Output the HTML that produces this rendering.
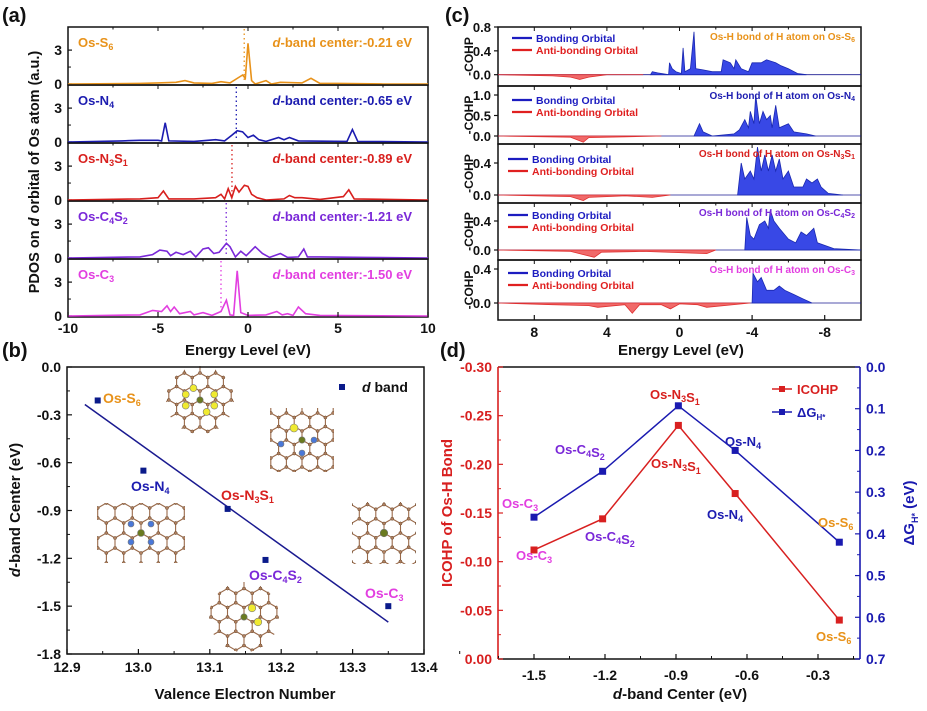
<!DOCTYPE html>
<html><head><meta charset="utf-8"><style>
html,body{margin:0;padding:0;background:#fff;}
svg{display:block;font-family:"Liberation Sans",Arial,sans-serif;font-weight:bold;}
</style></head><body>
<svg id="fig" width="927" height="711" viewBox="0 0 927 711" xmlns="http://www.w3.org/2000/svg">
<defs>
<clipPath id="clipA"><rect x="68" y="27" width="360" height="290"/></clipPath>
<clipPath id="clipC"><rect x="498" y="27" width="363" height="293"/></clipPath>
</defs>
<g id="pa"></g>
<g id="pb"></g>
<g id="pc"></g>
<g id="pd"></g>
</svg>
<script>
const NS="http://www.w3.org/2000/svg";
function mk(parent,tag,attrs,text){const e=document.createElementNS(NS,tag);for(const k in attrs)e.setAttribute(k,attrs[k]);if(text!==undefined)e.innerHTML=text;parent.appendChild(e);return e;}

// ---------- Panel (a) data ----------
const pdosNames=["Os-S<tspan font-size='9' dy='3'>6</tspan>","Os-N<tspan font-size='9' dy='3'>4</tspan>","Os-N<tspan font-size='9' dy='3'>3</tspan><tspan dy='-3'>S</tspan><tspan font-size='9' dy='3'>1</tspan>","Os-C<tspan font-size='9' dy='3'>4</tspan><tspan dy='-3'>S</tspan><tspan font-size='9' dy='3'>2</tspan>","Os-C<tspan font-size='9' dy='3'>3</tspan>"];
const pdosColors=["#e8921a","#1c1cb0","#d8201e","#7a28d8","#e23ee0"];
const dCenters=[-0.21,-0.65,-0.89,-1.21,-1.50];
const pdosS6=[[-10,0],[-6,0.05],[-5,0.1],[-4,0.15],[-3.5,0.3],[-3,0.1],[-2,0.05],[-1.5,0.2],[-1,0.1],[-0.3,0.8],[-0.15,0.5],[0,3.6],[0.2,0.3],[0.4,0],[1,0.3],[1.3,0],[1.8,0.15],[3,0.1],[3.5,0.5],[4,0.05],[5,0.05],[7.5,0],[10,0]];
const pdosN4=[[-10,0],[-7,0.1],[-6,0.15],[-5,0.15],[-4.8,0.1],[-4.6,1.7],[-4.4,0.1],[-3,0.05],[-1.8,0.2],[-1.3,0.1],[-0.9,0.6],[-0.6,1.0],[-0.3,0.9],[0,0.4],[0.3,0.6],[0.6,0.2],[1,0.05],[1.7,0.4],[2,0.2],[2.3,0.4],[2.8,0.1],[5.5,0.05],[5.8,1.1],[6.1,0.05],[10,0]];
const pdosN3S1=[[-10,0],[-6,0.1],[-5,0.2],[-4.7,0.8],[-4.4,0.1],[-3,0.1],[-1.8,0.2],[-1.5,0.5],[-1.3,0.1],[-1.1,1.0],[-0.9,0.2],[-0.7,1.2],[-0.5,0.7],[-0.2,1.3],[0,1.2],[0.2,0.5],[0.5,0.2],[1,0],[2,0.1],[2.3,0.4],[2.6,0.2],[3,0.2],[4,0.05],[5.3,0.3],[5.6,0.9],[5.9,0.1],[10,0]];
const pdosC4S2=[[-10,0],[-6,0.1],[-5.3,0.3],[-4.9,0.7],[-4.5,0.6],[-4.3,0.2],[-4,0.5],[-3.6,0.3],[-3.2,0.6],[-2.9,0.1],[-2.5,0.8],[-2.2,0.9],[-1.9,0.4],[-1.6,0.5],[-1.2,1.3],[-1.0,1.0],[-0.7,0.1],[-0.4,0.6],[-0.1,0.2],[0.4,1.0],[0.8,0.4],[1.2,0.05],[1.8,0.4],[2.2,0.05],[2.8,0.1],[3.1,0.8],[3.3,0.1],[4,0.1],[6.5,0.05],[10,0]];
const pdosC3=[[-10,0],[-6,0.1],[-5.3,0.5],[-4.8,0.4],[-4.5,0.9],[-4.3,0.4],[-4.1,0.8],[-3.8,0.2],[-3.2,0.4],[-3,0.1],[-2.5,0.3],[-2,0.05],[-1.5,0.4],[-1.2,1.4],[-1.0,0.1],[-0.8,0.05],[-0.6,4.0],[-0.4,0.3],[0,0.05],[1,0.1],[1.6,0.4],[1.9,0.1],[2.2,0.2],[2.5,0.05],[2.8,0.8],[3.2,0.2],[4,0.05],[10,0]];
const pdosSeries=[pdosS6,pdosN4,pdosN3S1,pdosC4S2,pdosC3];
const aTicks=[-10,-5,0,5,10];

// ---------- Panel (b) data ----------
const valence=[12.943,13.007,13.125,13.178,13.35];
const dband=[-0.21,-0.65,-0.89,-1.21,-1.50];
const fitX=[12.925,13.35];
const fitY=[-0.235,-1.60];
const bXTicks=[12.9,13.0,13.1,13.2,13.3,13.4];
const bYTicks=[0.0,-0.3,-0.6,-0.9,-1.2,-1.5,-1.8];

// ---------- Panel (c) data ----------
const cohpTitles=["Os-S<tspan font-size='7' dy='2'>6</tspan>","Os-N<tspan font-size='7' dy='2'>4</tspan>","Os-N<tspan font-size='7' dy='2'>3</tspan><tspan dy='-2'>S</tspan><tspan font-size='7' dy='2'>1</tspan>","Os-C<tspan font-size='7' dy='2'>4</tspan><tspan dy='-2'>S</tspan><tspan font-size='7' dy='2'>2</tspan>","Os-C<tspan font-size='7' dy='2'>3</tspan>"];
const cohpYTicks=[[0.0,0.4,0.8],[0.0,0.5,1.0],[0.0,0.4],[0.0,0.4],[0.0,0.4]];
const bondS6=[[1.6,0],[1.5,0.05],[1.2,0.03],[0.6,0],[0.55,0.2],[0.4,0.1],[0.2,0.05],[-0.1,0.02],[-0.2,0.45],[-0.3,0.05],[-0.6,0.1],[-0.8,0.72],[-0.9,0.1],[-1.3,0.08],[-1.8,0.05],[-2.3,0.05],[-2.4,0.25],[-2.8,0.2],[-3.0,0.1],[-3.1,0.25],[-3.4,0.1],[-3.8,0.05],[-4.0,0.2],[-4.5,0.2],[-4.8,0.25],[-5.3,0.2],[-5.6,0.15],[-6.0,0.1],[-6.5,0.02],[-7,0]];
const antiS6=[[10,0],[7,-0.02],[6,-0.04],[5.5,-0.08],[5,-0.04],[4,0],[2,0]];
const bondN4=[[-0.8,0],[-1.1,0.3],[-1.3,0.1],[-1.8,0],[-3.0,0.05],[-3.3,0.15],[-3.6,0.4],[-3.8,0.2],[-3.9,0.6],[-4.1,0.3],[-4.2,1.0],[-4.4,0.3],[-4.6,0.6],[-4.8,0.4],[-5,0.5],[-5.1,0.2],[-5.3,0.75],[-5.5,0.2],[-6,0.3],[-6.3,0.1],[-7,0.05],[-7.5,0]];
const antiN4=[[10,0],[6,-0.03],[5.3,-0.15],[5,-0.04],[3,-0.02],[1,0]];
const bondN3S1=[[-3.2,0],[-3.4,0.4],[-3.6,0.2],[-3.9,0.3],[-4.1,0.2],[-4.3,0.6],[-4.5,0.3],[-4.7,0.5],[-4.9,0.3],[-5.1,0.5],[-5.3,0.3],[-5.5,0.45],[-5.7,0.2],[-6,0.3],[-6.3,0.1],[-6.8,0.1],[-7,0.2],[-7.3,0.15],[-7.6,0.2],[-7.8,0.1],[-8.2,0.02],[-9,0]];
const antiN3S1=[[10,0],[6,-0.02],[5.3,-0.07],[5,-0.03],[3,-0.01],[1.5,-0.03],[0.5,0]];
const bondC4S2=[[-3.6,0],[-3.7,0.45],[-3.9,0.2],[-4.1,0.15],[-4.4,0.35],[-4.7,0.4],[-4.9,0.3],[-5.0,0.55],[-5.2,0.4],[-5.5,0.3],[-6,0.15],[-6.4,0.1],[-6.7,0.25],[-7,0.2],[-7.4,0.3],[-7.6,0.1],[-8.5,0.02],[-10,0]];
const antiC4S2=[[10,0],[6,-0.02],[4.7,-0.1],[4.3,-0.03],[2,-0.02],[-1.5,-0.05],[-2,0]];
const bondC3=[[-4,0],[-4.05,0.35],[-4.3,0.25],[-4.5,0.3],[-4.8,0.15],[-5.2,0.15],[-5.5,0.2],[-5.8,0.15],[-6.3,0.1],[-6.8,0.05],[-7.3,0]];
const antiC3=[[10,0],[7,-0.02],[5,-0.03],[4.5,-0.05],[3,-0.02],[2.6,-0.12],[2.2,-0.02],[1,-0.02],[0.5,-0.07],[0,-0.01],[-1,-0.02],[-1.5,-0.05],[-3.9,0]];
const bondSeries=[bondS6,bondN4,bondN3S1,bondC4S2,bondC3];
const antiSeries=[antiS6,antiN4,antiN3S1,antiC4S2,antiC3];
const cXTicks=[8,4,0,-4,-8];

// ---------- Panel (d) data ----------
const dX=[-1.5,-1.21,-0.89,-0.65,-0.21];
const icohp=[-0.112,-0.144,-0.240,-0.170,-0.040];
const deltaG=[0.36,0.25,0.093,0.20,0.42];
const dXTicks=[-1.5,-1.2,-0.9,-0.6,-0.3];
const dLeftTicks=[-0.30,-0.25,-0.20,-0.15,-0.10,-0.05,0.00];
const dRightTicks=[0.0,0.1,0.2,0.3,0.4,0.5,0.6,0.7];

// ================= Panel (a) =================
const pa=document.getElementById('pa');
const ax=e=>68+(e+10)/20*360;
mk(pa,'text',{x:2,y:22,'font-size':20,fill:'#111'},'(a)');
for(let i=0;i<5;i++){
  const top=27+58*i, bot=top+58, y0=bot-1;
  const ay=v=>y0-v*11.3;
  const g=mk(pa,'g',{});
  
  
  const fr=mk(g,'rect',{x:68,y:top,width:360,height:58,fill:'none',stroke:'#111','stroke-width':1.5});
  
  for(const v of [0,3]){
    mk(g,'line',{x1:68,x2:72,y1:ay(v),y2:ay(v),stroke:'#111','stroke-width':1.2});
    const t=mk(g,'text',{x:62,y:ay(v)+5,'text-anchor':'end','font-size':14,fill:'#111'},String(v));
    
  }
  mk(g,'line',{x1:68,x2:71,y1:ay(1.5),y2:ay(1.5),stroke:'#111'});
  for(let e=-10;e<=10;e+=2.5){mk(g,'line',{x1:ax(e),x2:ax(e),y1:top,y2:top+(e%5===0?4:2.5),stroke:'#111'});}
  const pts=pdosSeries[i].map(p=>ax(p[0]).toFixed(1)+','+ay(p[1]).toFixed(1)).join(' ');
  const pl=mk(g,'polyline',{points:pts,fill:'none',stroke:pdosColors[i],'stroke-width':1.6,'clip-path':'url(#clipA)'});
  
  const dl=mk(g,'line',{x1:ax(dCenters[i]),x2:ax(dCenters[i]),y1:top+2,y2:ay(0.3),stroke:pdosColors[i],'stroke-width':1.3,'stroke-dasharray':'1.5,3'});
  
  const nm=mk(g,'text',{x:78,y:top+20,'font-size':13,fill:pdosColors[i]},pdosNames[i]);
  
  const dc=mk(g,'text',{x:412,y:top+20,'text-anchor':'end','font-size':13,fill:pdosColors[i]},"<tspan font-style='italic'>d</tspan>-band center:"+dCenters[i].toFixed(2)+" eV");
  
}
aTicks.forEach(t=>{
  mk(pa,'line',{x1:ax(t),x2:ax(t),y1:317,y2:312,stroke:'#111','stroke-width':1.2});
  const tl=mk(pa,'text',{x:ax(t),y:333,'text-anchor':'middle','font-size':14,fill:'#111'},String(t));
  
});
mk(pa,'text',{x:248,y:355,'text-anchor':'middle','font-size':15,fill:'#111'},'Energy Level (eV)');
mk(pa,'text',{x:0,y:0,transform:'translate(39,172) rotate(-90)','text-anchor':'middle','font-size':14.5,fill:'#111'},"PDOS on <tspan font-style='italic'>d</tspan> orbital of Os atom (a.u.)");

// ================= Panel (b) =================
const pb=document.getElementById('pb');
const bx=v=>67+(v-12.9)/0.5*357;
const by=v=>367+(-v)/1.8*287;
mk(pb,'text',{x:2,y:357,'font-size':20,fill:'#111'},'(b)');
function lattice(cx,cy,w,h,a,shape){
  const g=mk(pb,'g',{});
  
  
  const id='cl'+Math.round(cx)+'_'+Math.round(cy);
  const cp=mk(document.querySelector('defs'),'clipPath',{id:id});
  if(shape==='c') mk(cp,'circle',{cx:cx,cy:cy,r:w/2}); else mk(cp,'rect',{x:cx-w/2,y:cy-h/2,width:w,height:h});
  const gg=mk(g,'g',{'clip-path':'url(#'+id+')'});
  const s3=Math.sqrt(3);let d='';const dots=[];
  for(let j=-6;j<=6;j++)for(let i=-7;i<=7;i++){
    const hx=cx+i*s3*a+(Math.abs(j)%2?s3*a/2:0), hy=cy+a+j*1.5*a;
    if(Math.abs(hx-cx)>w/2+a*2||Math.abs(hy-cy)>h/2+a*2)continue;
    for(let k=0;k<6;k++){const an=Math.PI/3*k+Math.PI/6;const px=hx+a*Math.cos(an),py=hy+a*Math.sin(an);d+=(k?'L':'M')+px.toFixed(1)+','+py.toFixed(1);dots.push([px,py]);}
    d+='Z';
  }
  mk(gg,'path',{d:d,fill:'none',stroke:'#9a6a4a','stroke-width':1.1});
  dots.forEach(p=>mk(gg,'circle',{cx:p[0],cy:p[1],r:1.5,fill:'#b08060',stroke:'#6a4a30','stroke-width':0.4}));
  return g;
}
function atom(g,x,y,c,r){mk(g,'circle',{cx:x,cy:y,r:r,fill:c,stroke:'#777','stroke-width':0.6});}
let g1=lattice(200,400,68,68,9,'c');[[-13,-8],[13,-8],[-13,8],[13,8],[-6,-17],[6,17]].forEach(p=>atom(g1,200+p[0]*1.1,400+p[1]*0.7,'#f0ea30',3.5));atom(g1,200,400,'#6a7a20',3.2);
let g2=lattice(302,440,64,64,9,'r');[[-21,4],[12,0],[0,13]].forEach(p=>atom(g2,302+p[0],440+p[1],'#4a78d8',3));atom(g2,294,428,'#f0ea30',4);atom(g2,302,440,'#6a7a20',3.2);
let g3=lattice(141,533,88,60,10,'r');[[-10,-9],[10,-9],[-10,9],[10,9]].forEach(p=>atom(g3,141+p[0],533+p[1],'#4a78d8',3));atom(g3,141,533,'#6a7a20',3.5);
let g4=lattice(244,617,70,66,9.5,'c');atom(g4,252,608,'#f0ea30',3.8);atom(g4,258,622,'#f0ea30',3.8);atom(g4,244,617,'#6a7a20',3.2);
let g5=lattice(384,533,64,62,9.5,'r');atom(g5,384,533,'#6a7a20',3.8);
mk(pb,'rect',{x:67,y:367,width:357,height:287,fill:'none',stroke:'#111','stroke-width':1.5});
bXTicks.forEach(t=>{
  mk(pb,'line',{x1:bx(t),x2:bx(t),y1:654,y2:649,stroke:'#111','stroke-width':1.2});
  mk(pb,'line',{x1:bx(t+0.05),x2:bx(t+0.05),y1:654,y2:651,stroke:'#111'});
  const tl=mk(pb,'text',{x:bx(t),y:672,'text-anchor':'middle','font-size':14,fill:'#111'},t.toFixed(1));
  
});
bYTicks.forEach(t=>{
  mk(pb,'line',{x1:67,x2:72,y1:by(t),y2:by(t),stroke:'#111','stroke-width':1.2});
  if(t>-1.8)mk(pb,'line',{x1:67,x2:70,y1:by(t-0.15),y2:by(t-0.15),stroke:'#111'});
  const tl=mk(pb,'text',{x:61,y:by(t)+5,'text-anchor':'end','font-size':14,fill:'#111'},t.toFixed(1));
  
});
mk(pb,'text',{x:245,y:699,'text-anchor':'middle','font-size':15,fill:'#111'},'Valence Electron Number');
mk(pb,'text',{x:0,y:0,transform:'translate(20,510) rotate(-90)','text-anchor':'middle','font-size':15,fill:'#111'},"<tspan font-style='italic'>d</tspan>-band Center (eV)");
const fit=mk(pb,'line',{x1:bx(fitX[0]),y1:by(fitY[0]),x2:bx(fitX[1]),y2:by(fitY[1]),stroke:'#1a1a90','stroke-width':1.5});

valence.forEach((v,i)=>{
  const r=mk(pb,'rect',{x:bx(v)-3,y:by(dband[i])-3,width:6,height:6,fill:'#0a1a8a'});
  
});
const bLabels=[["Os-S<tspan font-size='9' dy='3'>6</tspan>",103,403,'#e8921a'],["Os-N<tspan font-size='9' dy='3'>4</tspan>",131,491,'#1c1cb0'],["Os-N<tspan font-size='9' dy='3'>3</tspan><tspan dy='-3'>S</tspan><tspan font-size='9' dy='3'>1</tspan>",221,500,'#d8201e'],["Os-C<tspan font-size='9' dy='3'>4</tspan><tspan dy='-3'>S</tspan><tspan font-size='9' dy='3'>2</tspan>",249,580,'#7a28d8'],["Os-C<tspan font-size='9' dy='3'>3</tspan>",365,598,'#e23ee0']];
bLabels.forEach(l=>{const t=mk(pb,'text',{x:l[1],y:l[2],'font-size':14,fill:l[3]},l[0]);});
mk(pb,'rect',{x:339,y:384,width:6,height:6,fill:'#0a1a8a'});
mk(pb,'text',{x:362,y:392,'font-size':14,fill:'#111'},"<tspan font-style='italic'>d</tspan> band");

// ================= Panel (c) =================
const pc=document.getElementById('pc');
const cx_=e=>498+(10-e)/20*363;
mk(pc,'text',{x:445,y:22,'font-size':20,fill:'#111'},'(c)');
const cTops=[27,86,144,203,260,320];
const cZero=[74.7,136,195,250,303];
const cTitleColors=['#e8921a','#1c1cb0','#d8201e','#7a28d8','#e23ee0'];
for(let i=0;i<5;i++){
  const top=cTops[i],bot=cTops[i+1],z=cZero[i];
  const sc=(i===0?(z-27)/0.8:(i===1?(z-95)/1.0:(i===2?(z-163)/0.4:(i===3?(z-221)/0.4:(z-269)/0.4))));
  const cy=v=>z-v*sc;
  const g=mk(pc,'g',{});
  
  
  const fr=mk(g,'rect',{x:498,y:top,width:363,height:bot-top,fill:'none',stroke:'#111','stroke-width':1.5});
  
  mk(g,'line',{x1:498,x2:861,y1:z,y2:z,stroke:'#1a1a90','stroke-width':0.8});
  cohpYTicks[i].forEach(t=>{
    mk(g,'line',{x1:494,x2:498,y1:cy(t),y2:cy(t),stroke:'#111','stroke-width':1.2});
    const tl=mk(g,'text',{x:491,y:cy(t)+5,'text-anchor':'end','font-size':13,fill:'#111'},t.toFixed(1));
    
  });
  for(let e=-10;e<=10;e+=2){mk(g,'line',{x1:cx_(e),x2:cx_(e),y1:top,y2:top+(e%4===0?4:2.5),stroke:'#111'});}
  const bs=bondSeries[i];
  const bp='M'+cx_(bs[0][0]).toFixed(1)+','+z+' '+bs.map(p=>'L'+cx_(p[0]).toFixed(1)+','+cy(p[1]).toFixed(1)).join(' ')+' L'+cx_(bs[bs.length-1][0]).toFixed(1)+','+z+'Z';
  const bpath=mk(g,'path',{d:bp,fill:'#3848e6',stroke:'#1a28b0','stroke-width':0.8,'clip-path':'url(#clipC)'});
  
  const as=antiSeries[i];
  const ap='M'+cx_(as[0][0]).toFixed(1)+','+z+' '+as.map(p=>'L'+cx_(p[0]).toFixed(1)+','+cy(p[1]).toFixed(1)).join(' ')+' L'+cx_(as[as.length-1][0]).toFixed(1)+','+z+'Z';
  const apath=mk(g,'path',{d:ap,fill:'#f06a6a',stroke:'#e03030','stroke-width':0.8,'clip-path':'url(#clipC)'});
  
  const lx=i===0?512:(i===1?512:508);
  const off=i===0?38:(i===1?100:(i===2?159:(i===3?215:273)));
  mk(g,'line',{x1:lx,x2:lx+20,y1:off,y2:off,stroke:'#1c1cc0','stroke-width':2.2});
  const l1=mk(g,'text',{x:lx+24,y:off+4,'font-size':10.5,fill:'#1c1cc0'},'Bonding Orbital');
  
  mk(g,'line',{x1:lx,x2:lx+20,y1:off+12,y2:off+12,stroke:'#e02020','stroke-width':2.2});
  const l2=mk(g,'text',{x:lx+24,y:off+16,'font-size':10.5,fill:'#e02020'},'Anti-bonding Orbital');
  
  const tt=mk(g,'text',{x:855,y:top+13,'text-anchor':'end','font-size':10,fill:cTitleColors[i]},'Os-H bond of H atom on '+cohpTitles[i]);
  
  const yl=mk(g,'text',{x:0,y:0,transform:'translate(473,'+((top+bot)/2)+') rotate(-90)','text-anchor':'middle','font-size':12,fill:'#111'},'-COHP');
  
}
cXTicks.forEach(t=>{
  mk(pc,'line',{x1:cx_(t),x2:cx_(t),y1:320,y2:315,stroke:'#111','stroke-width':1.2});
  const tl=mk(pc,'text',{x:cx_(t),y:337,'text-anchor':'middle','font-size':14,fill:'#111'},String(t));
  
});
mk(pc,'text',{x:681,y:355,'text-anchor':'middle','font-size':15,fill:'#111'},'Energy Level (eV)');

// ================= Panel (d) =================
const pd=document.getElementById('pd');
const dxs=v=>534+(v+1.5)/1.2*284;
const dyl=v=>659-(-v)/0.30*292;
const dyr=v=>367+v/0.7*292;
mk(pd,'text',{x:440,y:357,'font-size':20,fill:'#111'},'(d)');
mk(pd,'line',{x1:498,x2:860,y1:367,y2:367,stroke:'#111','stroke-width':1.5});
mk(pd,'line',{x1:498,x2:860,y1:659,y2:659,stroke:'#111','stroke-width':1.5});
mk(pd,'line',{x1:498,x2:498,y1:367,y2:659,stroke:'#d82020','stroke-width':1.6});
mk(pd,'line',{x1:860,x2:860,y1:367,y2:659,stroke:'#1a1ab0','stroke-width':1.6});
dXTicks.forEach(t=>{
  mk(pd,'line',{x1:dxs(t),x2:dxs(t),y1:659,y2:654,stroke:'#111','stroke-width':1.2});
  mk(pd,'line',{x1:dxs(t+0.15),x2:dxs(t+0.15),y1:659,y2:656,stroke:'#111'});
  const tl=mk(pd,'text',{x:dxs(t),y:680,'text-anchor':'middle','font-size':14,fill:'#111'},t.toFixed(1));
  
});
mk(pd,'line',{x1:dxs(-1.65),x2:dxs(-1.65),y1:659,y2:656,stroke:'#111'});
dLeftTicks.forEach(t=>{
  mk(pd,'line',{x1:498,x2:503,y1:dyl(t),y2:dyl(t),stroke:'#d82020','stroke-width':1.2});
  if(t<0)mk(pd,'line',{x1:498,x2:501,y1:dyl(t+0.025),y2:dyl(t+0.025),stroke:'#d82020'});
  const tl=mk(pd,'text',{x:492,y:dyl(t)+5,'text-anchor':'end','font-size':14,fill:'#d82020'},t.toFixed(2));
  
});
dRightTicks.forEach(t=>{
  mk(pd,'line',{x1:855,x2:860,y1:dyr(t),y2:dyr(t),stroke:'#1a1ab0','stroke-width':1.2});
  if(t<0.7)mk(pd,'line',{x1:857,x2:860,y1:dyr(t+0.05),y2:dyr(t+0.05),stroke:'#1a1ab0'});
  const tl=mk(pd,'text',{x:866,y:dyr(t)+5,'font-size':14,fill:'#1a1ab0'},t.toFixed(1));
  
});
mk(pd,'text',{x:0,y:0,transform:'translate(452,513) rotate(-90)','text-anchor':'middle','font-size':15,fill:'#d82020'},'ICOHP of Os-H Bond');
mk(pd,'text',{x:0,y:0,transform:'translate(914,513) rotate(-90)','text-anchor':'middle','font-size':15,fill:'#1a1ab0'},"ΔG<tspan font-size='9' dy='4'>H*</tspan><tspan dy='-4'> (eV)</tspan>");
mk(pd,'text',{x:680,y:699,'text-anchor':'middle','font-size':15,fill:'#111'},"<tspan font-style='italic'>d</tspan>-band Center (eV)");
const icl=mk(pd,'polyline',{points:dX.map((x,i)=>dxs(x)+','+dyl(icohp[i])).join(' '),fill:'none',stroke:'#d82020','stroke-width':1.5});

const dgl=mk(pd,'polyline',{points:dX.map((x,i)=>dxs(x)+','+dyr(deltaG[i])).join(' '),fill:'none',stroke:'#1a1ab0','stroke-width':1.5});

dX.forEach((x,i)=>{
  const r=mk(pd,'rect',{x:dxs(x)-3.5,y:dyl(icohp[i])-3.5,width:7,height:7,fill:'#d82020'});
  
  const r2=mk(pd,'rect',{x:dxs(x)-3.5,y:dyr(deltaG[i])-3.5,width:7,height:7,fill:'#1a1ab0'});
  
});
const sub=(a,b)=>a+"<tspan font-size='9' dy='3'>"+b+"</tspan><tspan dy='-3'></tspan>";
const dLabels=[
 [sub('Os-C','3'),502,508,'#e23ee0'],[sub('Os-C','3'),516,560,'#e23ee0'],
 [sub('Os-C','4')+sub('S','2'),555,454,'#7a28d8'],[sub('Os-C','4')+sub('S','2'),585,541,'#7a28d8'],
 [sub('Os-N','3')+sub('S','1'),650,399,'#d8201e'],[sub('Os-N','3')+sub('S','1'),651,468,'#d8201e'],
 [sub('Os-N','4'),725,446,'#1c1cb0'],[sub('Os-N','4'),707,519,'#1c1cb0'],
 [sub('Os-S','6'),818,527,'#e8921a'],[sub('Os-S','6'),816,641,'#e8921a']];
dLabels.forEach(l=>{const t=mk(pd,'text',{x:l[1],y:l[2],'font-size':13,fill:l[3]},l[0]);});
mk(pd,'line',{x1:772,x2:792,y1:389,y2:389,stroke:'#d82020','stroke-width':1.5});
mk(pd,'rect',{x:779,y:386,width:6,height:6,fill:'#d82020'});
mk(pd,'text',{x:797,y:394,'font-size':13,fill:'#d82020'},'ICOHP');
mk(pd,'line',{x1:772,x2:792,y1:412,y2:412,stroke:'#1a1ab0','stroke-width':1.5});
mk(pd,'rect',{x:779,y:409,width:6,height:6,fill:'#1a1ab0'});
mk(pd,'text',{x:797,y:417,'font-size':13,fill:'#1a1ab0'},"ΔG<tspan font-size='8' dy='3'>H*</tspan>");
</script>
</body></html>
